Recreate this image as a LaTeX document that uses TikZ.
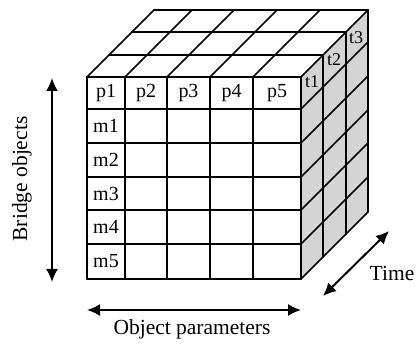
\documentclass[tikz,border=0pt]{standalone}
\usepackage{fontspec}
\setmainfont{Liberation Serif}
\usetikzlibrary{arrows.meta}
\begin{document}
\begin{tikzpicture}[x=1pt,y=-1pt,
  gridline/.style={line width=1.7pt, line join=round, line cap=round},
  cell/.style={font=\fontsize{20}{22}\selectfont, inner sep=0pt},
  tlbl/.style={font=\fontsize{18}{20}\selectfont, inner sep=0pt},
  axis/.style={font=\fontsize{21.5}{24}\selectfont, inner sep=0pt},
  dbl/.style={line width=2pt, {Latex[length=13pt,width=12pt]}-{Latex[length=13pt,width=12pt]}}]
\useasboundingbox (0,0) rectangle (416,345);
% right face fill
\fill[black!17] (301,77) -- (368,10) -- (368,212) -- (301,279) -- cycle;
% top face
\foreach \x in {87,125,167,210,253,301} \draw[gridline] (\x,77) -- ++(67,-67);
\foreach \k in {1,2,3} \draw[gridline] (87+22.33*\k,77-22.33*\k) -- (301+22.33*\k,77-22.33*\k);
% right face
\foreach \k in {1,2,3} \draw[gridline] (301+22.33*\k,77-22.33*\k) -- ++(0,202);
\foreach \y in {109,143,177,210,244,279} \draw[gridline] (301,\y) -- ++(67,-67);
% front face
\fill[white] (87,77) rectangle (301,279);
\foreach \y in {77,109,143,177,210,244,279} \draw[gridline] (87,\y) -- (301,\y);
\foreach \x in {87,125,167,210,253,301} \draw[gridline] (\x,77) -- (\x,279);
% labels
\node[cell] (p1) at (106,93) {p1};
\node[cell] (p2) at (146,93) {p2};
\node[cell] (p3) at (188.5,93) {p3};
\node[cell] (p4) at (231.5,93) {p4};
\node[cell] (p5) at (277,93) {p5};
\node[cell] (m1) at (106,126) {m1};
\node[cell] (m2) at (106,160) {m2};
\node[cell] (m3) at (106,193.5) {m3};
\node[cell] (m4) at (106,227) {m4};
\node[cell] (m5) at (106,261.5) {m5};
\node[tlbl] (t1) at (312,82) {t1};
\node[tlbl] (t2) at (334,60) {t2};
\node[tlbl] (t3) at (356,38) {t3};
% arrows
\coordinate (b1) at (52,78);
\coordinate (b2) at (52,282);
\coordinate (o1) at (87,310);
\coordinate (o2) at (301,310);
\coordinate (ta) at (323,296);
\coordinate (tb) at (389,231);
\draw[dbl] (b1) -- (b2);
\draw[dbl] (o1) -- (o2);
\draw[dbl] (ta) -- (tb);
\node[axis, rotate=90] (bridge) at (22,179) {Bridge objects};
\node[axis] (objpar) at (192,329) {Object parameters};
\node[axis] (time) at (392,273) {Time};
\end{tikzpicture}
\end{document}
